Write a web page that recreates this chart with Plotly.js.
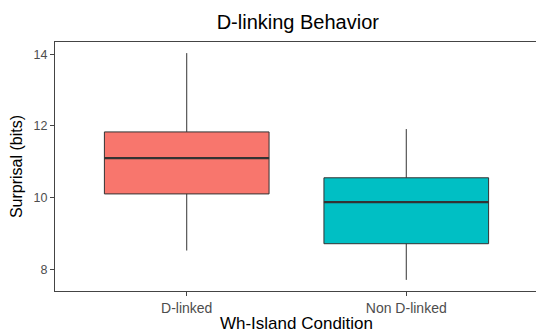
<!DOCTYPE html>
<html>
<head>
<meta charset="utf-8">
<script src="https://cdn.plot.ly/plotly-3.0.1.min.js"></script>
<style>
html,body{margin:0;padding:0;overflow:hidden;background:#fff;}
#chart{width:540px;height:333px;}
</style>
</head>
<body>
<div id="chart"></div>
<script>
// Data (box summary statistics)
const categories = ["D-linked", "Non D-linked"];
const lowerWhisker = [8.52, 7.70];
const q1Values = [10.10, 8.71];
const medianValues = [11.10, 9.87];
const q3Values = [11.83, 10.55];
const upperWhisker = [14.03, 11.91];
const yTicks = [8, 10, 12, 14];
const fillColors = ["#F8766D", "#00BFC4"];

const boxTraces = categories.map((c, i) => ({
  type: "box",
  x: [c],
  q1: [q1Values[i]],
  median: [medianValues[i]],
  q3: [q3Values[i]],
  lowerfence: [lowerWhisker[i]],
  upperfence: [upperWhisker[i]],
  width: 0.75,
  whiskerwidth: 0,
  fillcolor: fillColors[i],
  line: {color: "#333333", width: 1},
  boxpoints: false,
  hoverinfo: "skip",
  showlegend: false
}));

// thicker median line (ggplot fatten) as a degenerate box at the median
const medianTraces = categories.map((c, i) => ({
  type: "box",
  x: [c],
  q1: [medianValues[i]],
  median: [medianValues[i]],
  q3: [medianValues[i]],
  lowerfence: [medianValues[i]],
  upperfence: [medianValues[i]],
  width: 0.75,
  whiskerwidth: 0,
  fillcolor: "rgba(0,0,0,0)",
  line: {color: "#333333", width: 2.2},
  boxpoints: false,
  hoverinfo: "skip",
  showlegend: false
}));

const layout = {
  width: 540,
  height: 333,
  margin: {l: 55, r: 1.5, t: 42, b: 42},
  paper_bgcolor: "#ffffff",
  plot_bgcolor: "#ffffff",
  boxmode: "overlay",
  font: {family: "Liberation Sans, Arial, sans-serif", color: "#000"},
  title: {
    text: "D-linking Behavior",
    font: {size: 20, color: "#000"},
    x: 0.5515, xanchor: "center",
    y: 0.934, yanchor: "middle"
  },
  xaxis: {
    type: "category",
    range: [-0.6, 1.6],
    showgrid: false,
    zeroline: false,
    showline: true,
    mirror: true,
    linecolor: "#444444",
    linewidth: 1,
    ticks: "outside",
    ticklen: 4,
    tickcolor: "#444444",
    tickfont: {size: 14, color: "#4D4D4D"},
    title: {text: "Wh-Island Condition", font: {size: 17, color: "#000"}}
  },
  yaxis: {
    range: [7.39, 14.34],
    tickvals: yTicks,
    showgrid: false,
    zeroline: false,
    showline: true,
    mirror: true,
    linecolor: "#444444",
    linewidth: 1,
    ticks: "outside",
    ticklen: 4,
    tickcolor: "#444444",
    tickfont: {size: 12.5, color: "#4D4D4D"},
    title: {text: "Surprisal (bits)", font: {size: 16, color: "#000"}, standoff: 6}
  }
};

Plotly.newPlot("chart", boxTraces.concat(medianTraces), layout, {displayModeBar: false, staticPlot: true});
</script>
</body>
</html>
